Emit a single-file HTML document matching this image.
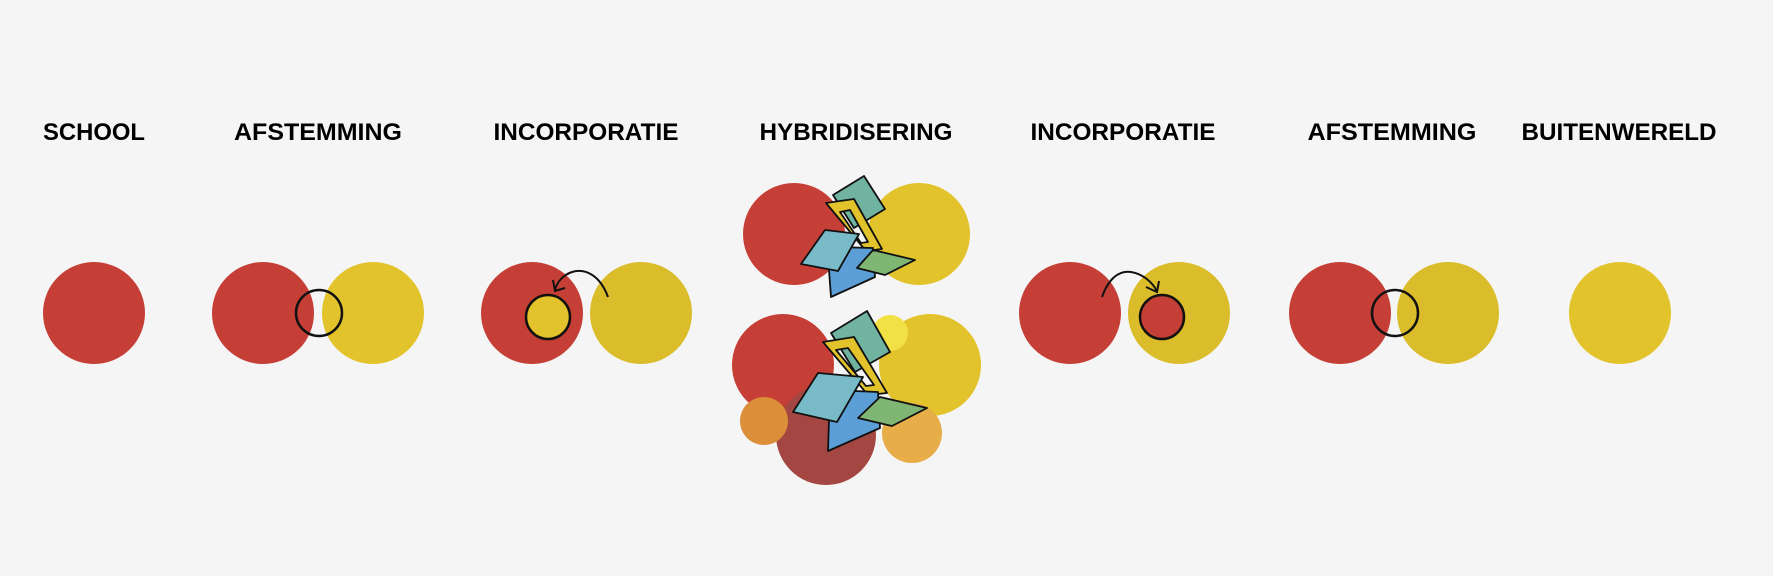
<!DOCTYPE html>
<html><head><meta charset="utf-8"><style>
html,body{margin:0;padding:0;background:#f5f5f5;}
svg{display:block;}
text{font-family:"Liberation Sans",sans-serif;font-weight:bold;font-size:24px;fill:#000;}
</style></head><body>
<svg width="1773" height="576" viewBox="0 0 1773 576" xmlns="http://www.w3.org/2000/svg">
<rect width="1773" height="576" fill="#f5f5f5"/>
<g text-anchor="middle">
<text x="94" y="140" textLength="102" lengthAdjust="spacingAndGlyphs">SCHOOL</text>
<text x="318" y="140" textLength="168" lengthAdjust="spacingAndGlyphs">AFSTEMMING</text>
<text x="586" y="140" textLength="185" lengthAdjust="spacingAndGlyphs">INCORPORATIE</text>
<text x="856" y="140" textLength="193" lengthAdjust="spacingAndGlyphs">HYBRIDISERING</text>
<text x="1123" y="140" textLength="185" lengthAdjust="spacingAndGlyphs">INCORPORATIE</text>
<text x="1392" y="140" textLength="169" lengthAdjust="spacingAndGlyphs">AFSTEMMING</text>
<text x="1619" y="140" textLength="195" lengthAdjust="spacingAndGlyphs">BUITENWERELD</text>
</g>
<!-- school -->
<circle cx="94" cy="313" r="51" fill="#c53f36"/>
<!-- afstemming 1 -->
<circle cx="263" cy="313" r="51" fill="#c53f36"/>
<circle cx="373" cy="313" r="51" fill="#e2c32b"/>
<ellipse cx="319" cy="313" rx="23" ry="23" fill="none" stroke="#111" stroke-width="2.5"/>
<!-- incorporatie 1 -->
<circle cx="532" cy="313" r="51" fill="#c53f36"/>
<circle cx="641" cy="313" r="51" fill="#dbbc2a"/>
<circle cx="548" cy="317" r="22" fill="#e2c32b" stroke="#111" stroke-width="2.5"/>
<path d="M608,297 C600,275 585,268 572,272 C563,275 557,282 555,290" fill="none" stroke="#111" stroke-width="2"/>
<path d="M553,280 L555,291 L565,288" fill="none" stroke="#111" stroke-width="2"/>
<!-- hybridisering top -->
<circle cx="794" cy="234" r="51" fill="#c53f36"/>
<circle cx="919" cy="234" r="51" fill="#e2c32b"/>
<g stroke="#111" stroke-width="1.8" stroke-linejoin="round">
<polygon points="833,195 864,176 885,209 854,228" fill="#6fb3a0"/>
<path d="M826,203 L854,199 L882,249 L866,251 Z M840,212 L850,210 L868,242 L861,243 Z" fill="#e2c32b" fill-rule="evenodd"/>
<polygon points="833,247 873,248 875,277 831,297 829,270" fill="#5b9fd6"/>
<polygon points="825,230 859,234 838,271 801,264" fill="#78bac8"/>
<polygon points="857,268 873,250 915,260 885,275" fill="#7fb674"/>
</g>
<!-- hybridisering bottom -->
<circle cx="783" cy="365" r="51" fill="#c53f36"/>
<circle cx="930" cy="365" r="51" fill="#e2c32b"/>
<circle cx="890" cy="333" r="18" fill="#f2e144"/>
<circle cx="826" cy="435" r="50" fill="#a44641"/>
<circle cx="912" cy="433" r="30" fill="#e6ad48"/>
<circle cx="764" cy="421" r="24" fill="#db8f38"/>
<g stroke="#111" stroke-width="1.8" stroke-linejoin="round">
<polygon points="831,333 867,311 890,352 855,372" fill="#6fb3a0"/>
<path d="M823,342 L854,337 L887,393 L868,395 Z M836,350 L848,348 L874,385 L866,386 Z" fill="#e2c32b" fill-rule="evenodd"/>
<polygon points="830,390 878,392 880,428 828,451" fill="#5b9fd6"/>
<polygon points="818,373 863,377 837,422 793,412" fill="#78bac8"/>
<polygon points="858,418 880,397 927,408 892,426" fill="#7fb674"/>
</g>
<!-- incorporatie 2 -->
<circle cx="1070" cy="313" r="51" fill="#c53f36"/>
<circle cx="1179" cy="313" r="51" fill="#dbbc2a"/>
<circle cx="1162" cy="317" r="22" fill="#c53f36" stroke="#111" stroke-width="2.5"/>
<path d="M1102,297 C1108,280 1118,270 1131,272 C1143,274 1152,282 1157,291" fill="none" stroke="#111" stroke-width="2"/>
<path d="M1146,287 L1157,292 L1159,281" fill="none" stroke="#111" stroke-width="2"/>
<!-- afstemming 2 -->
<circle cx="1340" cy="313" r="51" fill="#c53f36"/>
<circle cx="1448" cy="313" r="51" fill="#dbbc2a"/>
<circle cx="1395" cy="313" r="23" fill="none" stroke="#111" stroke-width="2.5"/>
<!-- buitenwereld -->
<circle cx="1620" cy="313" r="51" fill="#e2c32b"/>
</svg>
</body></html>
